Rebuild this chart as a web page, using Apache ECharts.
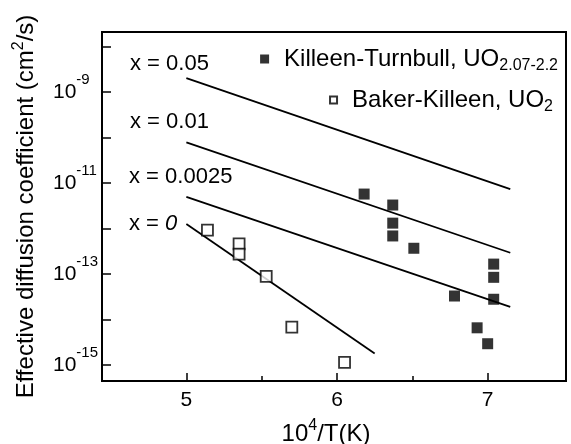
<!DOCTYPE html>
<html><head><meta charset="utf-8">
<script src="https://cdn.jsdelivr.net/npm/echarts@6/dist/echarts.min.js"></script>
<style>html,body{margin:0;padding:0;background:#fff}#c{width:571px;height:444px}</style>
</head><body><div id="c"></div>
<script>
// ---- data ----
const killeenX = [6.18, 6.37, 6.37, 6.37, 6.51, 6.78, 6.93, 7.00, 7.04, 7.04, 7.04];
const killeenD = [5.75e-12, 3.3e-12, 1.32e-12, 6.9e-13, 3.7e-13, 3.3e-14, 6.6e-15, 2.95e-15, 1.66e-13, 8.5e-14, 2.8e-14];
const bakerX = [5.14, 5.35, 5.35, 5.53, 5.70, 6.05];
const bakerD = [9.3e-13, 4.6e-13, 2.75e-13, 8.9e-14, 6.8e-15, 1.15e-15];
const lineNames = ['x = 0.05', 'x = 0.01', 'x = 0.0025', 'x = {i|0}'];
const lineX = [[5.0, 7.15], [5.0, 7.15], [5.0, 7.15], [5.0, 6.25]];
const lineD = [[2.04e-9, 7.4e-12], [7.9e-11, 2.95e-13], [5.0e-12, 1.9e-14], [1.26e-12, 1.8e-15]];
const seriesNames = ['Killeen-Turnbull', 'Baker-Killeen'];
const legendMain = ['Killeen-Turnbull, UO', 'Baker-Killeen, UO'];
const legendSub = ['2.07-2.2', '2'];
const xTickValues = [5, 6, 7];
const xMinorTickValues = [5.5, 6.5];
const yTickValues = [1e-8, 1e-9, 1e-10, 1e-11, 1e-12, 1e-13, 1e-14, 1e-15];
const yLabelValues = [1e-9, 1e-11, 1e-13, 1e-15];
const xRange = [4.44, 7.52];
const yRange = [4.47e-16, 2.1e-8];

const FF = '"Liberation Sans", Arial, Helvetica, sans-serif';
const chart = echarts.init(document.getElementById('c'), null, {renderer: 'canvas'});

const lineSeries = lineX.map((xs, i) => ({
  type: 'line', name: 'line' + i, xAxisIndex: 0, yAxisIndex: 0,
  data: xs.map((x, j) => [x, lineD[i][j]]),
  showSymbol: false, symbol: 'none', silent: true,
  lineStyle: {color: '#000', width: 1.8}, z: 2
}));

const labelPos = [[130, 53], [130, 111], [129, 166], [129, 213]];

chart.setOption({
  animation: false,
  backgroundColor: '#fff',
  grid: {left: 102, right: 5, top: 32, bottom: 63, show: true, borderColor: '#000', borderWidth: 2,
         containLabel: false, outerBoundsMode: 'none'},
  xAxis: [{
    type: 'value', min: xRange[0], max: xRange[1], splitNumber: 3,
    axisLine: {show: false}, splitLine: {show: false},
    axisTick: {inside: true, length: 8, customValues: xTickValues, lineStyle: {color: '#000', width: 1.5}},
    axisLabel: {customValues: xTickValues, fontSize: 21, color: '#000', fontFamily: FF, margin: 9},
    name: '10{p|4}/T(K)', nameLocation: 'middle', nameGap: 37,
    nameTextStyle: {fontSize: 24, color: '#000', fontFamily: FF, padding: [0, 16, 0, 0],
      rich: {p: {fontSize: 16, fontFamily: FF, color: '#000', padding: [0, 0, 16, 0]}}}
  }, {
    type: 'value', min: xRange[0], max: xRange[1], position: 'bottom',
    axisLine: {show: false}, splitLine: {show: false},
    axisTick: {inside: true, length: 5, customValues: xMinorTickValues, lineStyle: {color: '#000', width: 1.5}},
    axisLabel: {show: false}
  }],
  yAxis: {
    type: 'log', logBase: 10, min: yRange[0], max: yRange[1],
    axisLine: {show: false}, splitLine: {show: false},
    axisTick: {inside: true, length: 9, customValues: yTickValues, lineStyle: {color: '#000', width: 1.5}},
    axisLabel: {
      customValues: yLabelValues, margin: 49, align: 'left', color: '#000', fontFamily: FF,
      formatter: v => '{b|10}{p|' + Math.round(Math.log10(v)) + '}',
      rich: {
        b: {fontSize: 21, lineHeight: 24, fontFamily: FF, color: '#000'},
        p: {fontSize: 15, lineHeight: 24, fontFamily: FF, color: '#000', padding: [0, 0, 24, 0]}
      }
    },
    name: 'Effective diffusion coefficient (cm{p|2}/s)', nameLocation: 'middle', nameGap: 61,
    nameTextStyle: {fontSize: 24, color: '#000', fontFamily: FF,
      rich: {p: {fontSize: 16, fontFamily: FF, color: '#000', padding: [0, 0, 14, 0]}}}
  },
  legend: seriesNames.map((n, i) => ({
    data: [n], orient: 'vertical', right: i === 0 ? 13 : 18, top: i === 0 ? 44 : 85, padding: 0,
    selectedMode: false, itemWidth: i === 0 ? 9 : 7, itemHeight: i === 0 ? 9 : 7,
    formatter: () => '{m|' + legendMain[i] + '}{s|' + legendSub[i] + '}',
    textStyle: {color: '#000', fontFamily: FF,
      rich: {
        m: {fontSize: 24, lineHeight: 28, fontFamily: FF, color: '#000', padding: [0, 0, 0, 10]},
        s: {fontSize: 16, lineHeight: 28, fontFamily: FF, color: '#000', padding: [14, 0, 0, 0]}
      }}
  })),
  graphic: lineNames.map((t, i) => ({
    type: 'text', left: labelPos[i][0], top: labelPos[i][1], silent: true,
    style: {text: t, font: '22px ' + FF, fill: '#000',
      rich: {i: {fontStyle: 'italic', fontSize: 22, fontFamily: FF, fill: '#000'}}}
  })),
  series: lineSeries.concat([
    {type: 'scatter', name: seriesNames[0], symbol: 'rect', symbolSize: 11, z: 5,
     data: killeenX.map((x, i) => [x, killeenD[i]]),
     itemStyle: {color: '#000', borderColor: '#000', borderWidth: 0}},
    {type: 'scatter', name: seriesNames[1], symbol: 'rect', symbolSize: 11, z: 5,
     data: bakerX.map((x, i) => [x, bakerD[i]]),
     itemStyle: {color: '#fff', borderColor: '#000', borderWidth: 1.8}}
  ])
});
</script></body></html>
